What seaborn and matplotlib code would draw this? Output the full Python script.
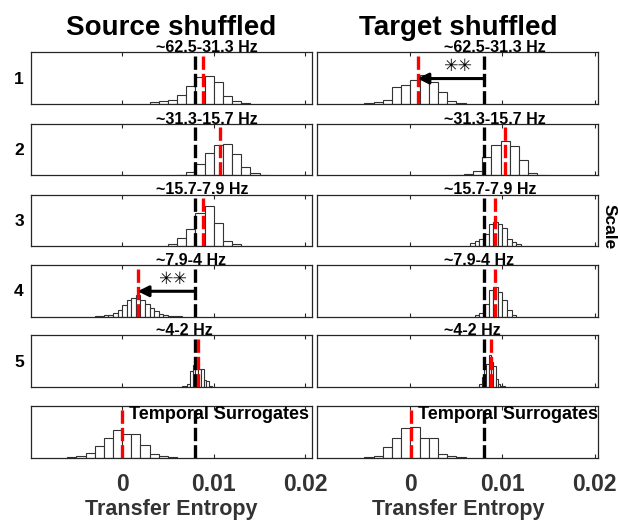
import numpy as np
import pandas as pd
import seaborn as sns
import matplotlib
matplotlib.use("Agg")
import matplotlib.pyplot as plt
from matplotlib.transforms import blended_transform_factory

# ---------------------------------------------------------------------------
# Data: surrogate transfer-entropy histograms per wavelet scale
# ---------------------------------------------------------------------------
band_labels = ["~62.5-31.3 Hz", "~31.3-15.7 Hz", "~15.7-7.9 Hz",
               "~7.9-4 Hz", "~4-2 Hz", "Temporal Surrogates"]
scale_labels = ["1", "2", "3", "4", "5", ""]
column_titles = ["Source shuffled", "Target shuffled"]

te_threshold = 0.008          # significance threshold (black dashed)

# observed transfer entropy (red dashed)
source_observed = [0.0088, 0.01065, 0.0088, 0.0017, 0.0083, 0.0]
target_observed = [0.00078, 0.0103, 0.0092, 0.0092, 0.0087, 0.0001]

# significant shifts marked with an arrow and stars
source_significant = [False, False, False, True, False, False]
target_significant = [True, False, False, False, False, False]

# histogram bins: first edge, bin width and surrogate counts per bin
source_bin_start = [0.003, 0.006, 0.005, -0.003, 0.0065, -0.006]
source_bin_width = [0.001, 0.001, 0.001, 0.0005, 0.0003, 0.001]
source_counts = [
    [13, 21, 33, 72, 141, 208, 216, 167, 59, 21, 4],
    [5, 25, 85, 175, 239, 246, 169, 67, 15, 4],
    [15, 59, 131, 255, 308, 175, 41, 15],
    [3, 5, 8, 15, 27, 50, 89, 127, 142, 166, 131, 100, 69, 42, 19, 8, 3, 3, 2],
    [5, 10, 19, 123, 169, 216, 142, 139, 54, 46, 10],
    [5, 12, 35, 92, 154, 212, 185, 181, 96, 27, 13, 4],
]

target_bin_start = [-0.005, 0.0048, 0.0065, 0.007, 0.0075, -0.005]
target_bin_width = [0.001, 0.001, 0.0005, 0.0005, 0.00025, 0.001]
target_counts = [
    [5, 12, 27, 131, 149, 182, 223, 167, 90, 21, 8],
    [5, 12, 33, 139, 239, 270, 231, 116, 15, 5],
    [25, 39, 54, 92, 172, 189, 173, 142, 54, 31, 14],
    [8, 28, 100, 204, 231, 189, 127, 52, 8],
    [19, 77, 139, 177, 246, 193, 162, 62, 18, 6, 4],
    [2, 8, 79, 149, 233, 239, 154, 150, 28, 13, 4],
]

x_ticks = [0, 0.01, 0.02]
x_tick_labels = ["0", "0.01", "0.02"]

# ---------------------------------------------------------------------------
# Style
# ---------------------------------------------------------------------------
sns.set_style("white")
plt.rcParams["font.family"] = ["Liberation Sans", "DejaVu Sans"]
plt.rcParams["font.weight"] = "bold"
plt.rcParams["text.color"] = "black"

W, H = 618, 521
fig = plt.figure(figsize=(W / 100, H / 100), dpi=100)

row_tops = [52.3, 123.8, 194.5, 265.0, 335.3, 406.0]
row_height = 51.5
col_left = [30.6, 317.3]
col_width = [281.1, 281.0]
col_xlim = [(-0.01, 0.0207), (-0.0101, 0.0204)]

frame_color = "#262626"
columns = [
    (source_observed, source_significant, source_bin_start, source_bin_width, source_counts),
    (target_observed, target_significant, target_bin_start, target_bin_width, target_counts),
]

for c, (observed, significant, bstart, bwidth, counts) in enumerate(columns):
    for r in range(6):
        ax = fig.add_axes([col_left[c] / W,
                           1 - (row_tops[r] + row_height) / H,
                           col_width[c] / W,
                           row_height / H])
        n = len(counts[r])
        edges = [bstart[r] + bwidth[r] * i for i in range(n + 1)]
        centers = [(edges[i] + edges[i + 1]) / 2 for i in range(n)]
        df = pd.DataFrame({"te": centers, "count": counts[r]})
        sns.histplot(data=df, x="te", weights="count", bins=edges, stat="count",
                     color="white", edgecolor="#333333", linewidth=0.8,
                     alpha=1, ax=ax)

        ax.axvline(te_threshold, color="black", lw=2.4,
                   linestyle=(0, (4, 1.2)), zorder=3)
        ax.axvline(observed[r], color="#ff0000", lw=2.4,
                   linestyle=(0, (4, 1.2)), zorder=4)

        ax.set_xlim(*col_xlim[c])
        ax.set_ylim(0, 400)
        ax.set_yticks([])
        ax.set_ylabel("")
        ax.set_xticks(x_ticks)
        ax.tick_params(axis="x", direction="in", top=True, bottom=True,
                       length=3, width=0.8, color=frame_color, pad=11.5,
                       labelsize=16.5, labelcolor="#333333")
        for s in ax.spines.values():
            s.set_color(frame_color)
            s.set_linewidth(0.9)

        trans = blended_transform_factory(ax.transData, ax.transAxes)
        if r < 5:
            ax.text(0.0037, 1.0, band_labels[r], transform=trans, ha="left",
                    va="baseline", fontsize=11.5, fontweight="bold", zorder=6)
        else:
            ax.text(0.0008, 0.83, band_labels[r], transform=trans, ha="left",
                    va="center", fontsize=13, fontweight="bold", zorder=6,
                    clip_on=False)

        if significant[r]:
            ax.annotate("", xy=(observed[r], 0.49), xytext=(te_threshold, 0.49),
                        xycoords=trans, textcoords=trans,
                        arrowprops=dict(arrowstyle="-|>", lw=2.2, color="black",
                                        mutation_scale=16, shrinkA=0, shrinkB=0),
                        zorder=5)
            star_x = observed[r] + 0.6 * (te_threshold - observed[r])
            ax.text(star_x, 0.73, "\u2733\u2733", transform=trans, ha="center",
                    va="center", fontsize=12.5, family="DejaVu Sans",
                    fontweight="bold", zorder=6)

        if r == 5:
            ax.set_xticklabels(x_tick_labels, fontweight="bold")
            ax.set_xlabel("Transfer Entropy", fontsize=15.5, fontweight="bold",
                          color="#333333", labelpad=2)
        else:
            ax.set_xticklabels([])
            ax.set_xlabel("")

        if c == 0 and scale_labels[r]:
            fig.text(19 / W, 1 - (row_tops[r] + row_height / 2 + 1) / H,
                     scale_labels[r], ha="center", va="center",
                     fontsize=12.5, fontweight="bold")

    fig.text((col_left[c] + col_width[c] / 2) / W, 1 - 35 / H, column_titles[c],
             ha="center", va="baseline", fontsize=20, fontweight="bold")

fig.text(609 / W, 1 - 227 / H, "Scale", rotation=270, ha="center", va="center",
         fontsize=12.5, fontweight="bold")

fig.savefig("out.png", dpi=100)
